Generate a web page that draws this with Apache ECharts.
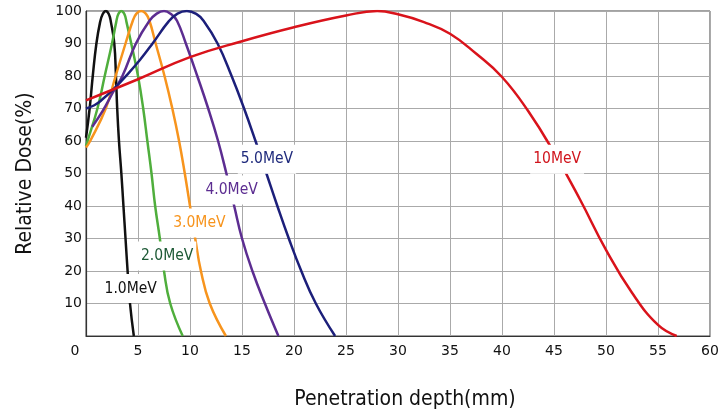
<!DOCTYPE html>
<html>
<head>
<meta charset="utf-8">
<script src="https://cdn.jsdelivr.net/npm/echarts@6/dist/echarts.min.js"></script>
<style>
html, body { margin: 0; padding: 0; background: #fff; }
#main { width: 718px; height: 412px; }
</style>
</head>
<body>
<div id="main"></div>
<script>
var chart = echarts.init(document.getElementById("main"))

// depth (mm), relative dose (%)
var mev1 = [[0, 61], [0.35, 70], [0.65, 80], [1.0, 90], [1.35, 96.5], [1.6, 99], [1.9, 100], [2.2, 99], [2.4, 96.5],
	[2.72, 90], [2.88, 80], [3.0, 70], [3.17, 60], [3.4, 50], [3.6, 40], [3.8, 30], [4.0, 20], [4.23, 10], [4.6, 0]]
var mev2 = [[0, 58.5], [0.15, 60], [1.1, 70], [1.8, 80], [2.5, 90], [2.9, 96.5], [3.1, 99], [3.4, 100], [3.7, 99],
	[3.9, 96.5], [4.35, 90], [5.0, 80], [5.5, 70], [5.9, 60], [6.3, 50], [6.65, 40], [7.1, 30], [7.5, 20], [8.1, 10],
	[9.3, 0]]
var mev3 = [[0, 58], [0.4, 60], [1.9, 70], [2.85, 80], [3.8, 90], [4.5, 97], [4.85, 99.2], [5.3, 100], [5.75, 99.2],
	[6.1, 97], [6.7, 90], [7.55, 80], [8.3, 70], [8.95, 60], [9.5, 50], [10.0, 40], [10.5, 30], [11.05, 20],
	[11.9, 10], [13.45, 0]]
var mev4 = [[0.6, 64.4], [1.65, 69.5], [2.6, 75], [3.5, 80], [4.8, 90], [6.1, 97], [6.8, 99.2], [7.5, 100],
	[8.2, 99], [8.75, 97], [9.6, 90], [10.7, 80], [11.75, 70], [12.7, 60], [13.5, 50], [14.25, 40], [15.0, 30],
	[16.0, 20], [17.2, 10], [18.5, 0]]
var mev5 = [[0, 70], [0.8, 71], [1.5, 72.6], [2.6, 75.8], [3.9, 80.2], [5.2, 85], [6.4, 90], [7.95, 96.8],
	[8.8, 99.2], [9.7, 100], [10.6, 99.1], [11.3, 97], [12.65, 90], [14.0, 80], [15.2, 70], [16.3, 60], [17.35, 50],
	[18.4, 40], [19.5, 30], [20.7, 20], [22.1, 10], [23.95, 0]]
var mev10 = [[0, 72.5], [5, 79], [10, 85.8], [15, 90.7], [20, 95], [25, 98.6], [28, 100], [30, 99], [32.5, 96.6],
	[35, 93], [37.5, 86.9], [40, 79.7], [42.5, 69.3], [45, 56.5], [47.5, 42], [50, 26.5], [52.5, 13.3], [55, 3.4],
	[56.8, 0]]

var narrow = "'DejaVu Sans Condensed', 'DejaVu Sans', sans-serif"

function curve(name, pts, color, textColor, at){
	return {
		name: name,
		type: "line",
		data: pts,
		smooth: 0.45,
		showSymbol: false,
		symbol: "none",
		lineStyle: { color: color, width: 2.5 },
		itemStyle: { color: color },
		markPoint: {
			symbol: "rect",
			symbolSize: 1,
			silent: true,
			itemStyle: { color: "rgba(0,0,0,0)" },
			label: {
				show: true,
				position: "inside",
				formatter: name,
				color: textColor,
				fontFamily: narrow,
				fontSize: 15.5,
				backgroundColor: "#fff",
				padding: [7, 3, 6, 3]
			},
			data: [{ coord: at }]
		}
	}
}

option = {
	animation: false,
	grid: {
		left: 86,
		right: 8,
		top: 11,
		bottom: 76,
		outerBoundsMode: "none",
		containLabel: false,
		show: true,
		borderColor: "#444",
		borderWidth: 1
	},
	xAxis: {
		type: "value",
		min: 0,
		max: 60,
		interval: 5,
		axisLine: { show: true, lineStyle: { color: "#333", width: 1.2 } },
		axisTick: { show: false },
		splitLine: { show: true, lineStyle: { color: "#aaaaaa", width: 1 } },
		axisLabel: {
			margin: 8,
			color: "#111",
			fontFamily: "DejaVu Sans",
			fontSize: 14,
			formatter: function(v){ return v === 0 ? "{o|0}" : v },
			rich: { o: { fontFamily: "DejaVu Sans", fontSize: 14, color: "#111", padding: [0, 22, 0, 0] } }
		},
		name: "Penetration depth(mm)",
		nameLocation: "middle",
		nameGap: 53,
		nameTextStyle: { fontFamily: narrow, fontSize: 21, color: "#111", padding: [0, 0, 0, 14] }
	},
	yAxis: {
		type: "value",
		min: 0,
		max: 100,
		interval: 10,
		axisLine: { show: true, lineStyle: { color: "#333", width: 1.2 } },
		axisTick: { show: false },
		splitLine: { show: true, lineStyle: { color: "#aaaaaa", width: 1 } },
		axisLabel: {
			margin: 4,
			color: "#111",
			fontFamily: "DejaVu Sans",
			fontSize: 14,
			formatter: function(v){ return v === 0 ? "" : v }
		},
		name: "Relative Dose(%)",
		nameLocation: "middle",
		nameGap: 50,
		nameTextStyle: { fontFamily: narrow, fontSize: 21, color: "#111" }
	},
	series: [
		curve("1.0MeV", mev1, "#111111", "#111111", [4.3, 14.6]),
		curve("2.0MeV", mev2, "#4fae3c", "#1e5a36", [7.8, 24.6]),
		curve("3.0MeV", mev3, "#f7941d", "#f7941d", [10.9, 34.8]),
		curve("4.0MeV", mev4, "#5c2d91", "#5c2d91", [14.0, 44.9]),
		curve("5.0MeV", mev5, "#1c1f7a", "#1f2a7c", [17.4, 54.4]),
		curve("10MeV", mev10, "#d9131b", "#d0141c", [45.3, 54.4])
	]
}

chart.setOption(option)
</script>
</body>
</html>
